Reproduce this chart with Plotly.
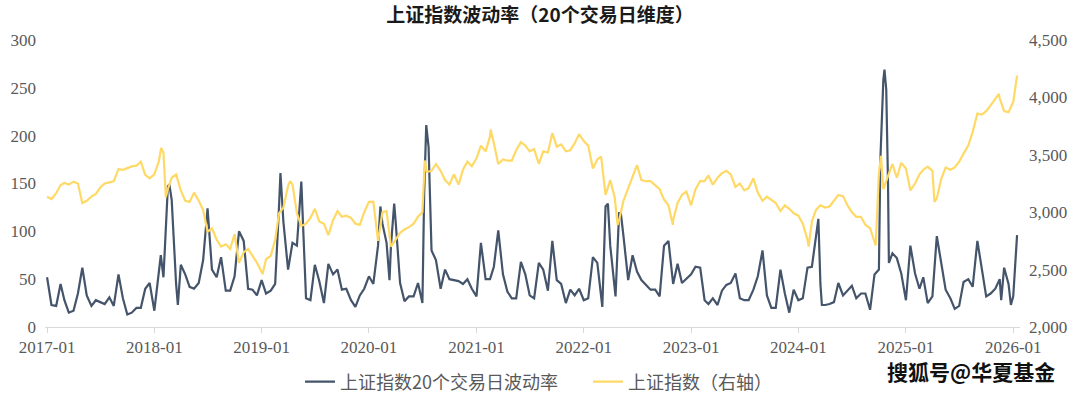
import pandas as pd
import plotly.graph_objects as go

# semi-monthly sampling dates (1st and 16th of each month), 2017-01 .. 2026-01
grid_dates = [f"{y}-{m:02d}-{d:02d}" for y in range(2017, 2026) for m in range(1, 13) for d in (1, 16)] + ["2026-01-01"]

# 上证指数20个交易日波动率 (left axis) at grid dates
vol_values = [
    # 2017
    52, 23, 22, 45, 28, 15, 17, 35, 62, 33, 22, 28, 26, 24, 31, 22, 55, 30, 13, 15, 20, 20, 40, 46,
    # 2018
    17, 59, 52, 147, 133, 45, 65, 55, 42, 40, 46, 70, 124, 60, 52, 73, 38, 38, 53, 100, 90, 40, 39, 33,
    # 2019
    49, 35, 38, 45, 125, 110, 60, 88, 85, 152, 30, 28, 65, 48, 25, 66, 55, 60, 39, 40, 28, 21, 33, 40,
    # 2020
    53, 45, 85, 108, 88, 85, 110, 46, 27, 32, 32, 46, 25, 205, 80, 70, 40, 60, 50, 49, 48, 45, 50, 40,
    # 2021
    32, 88, 50, 50, 63, 101, 55, 37, 30, 30, 68, 55, 33, 30, 67, 60, 38, 90, 49, 45, 25, 39, 33, 40,
    # 2022
    28, 30, 73, 67, 35, 126, 85, 38, 119, 95, 49, 75, 58, 49, 44, 39, 39, 32, 85, 90, 45, 66, 46, 50,
    # 2023
    55, 63, 62, 28, 24, 30, 23, 38, 44, 46, 56, 30, 28, 28, 39, 53, 80, 33, 20, 20, 60, 35, 15, 39,
    # 2024
    28, 30, 62, 63, 95, 45, 23, 24, 26, 46, 33, 38, 43, 30, 35, 35, 18, 55, 60, 258, 150, 77, 72, 56,
    # 2025
    28, 85, 56, 40, 52, 25, 32, 95, 65, 39, 30, 19, 22, 47, 50, 42, 90, 60, 32, 35, 40, 50, 62, 45,
    # 2026
    32,
]

# 上证指数 (right axis) at grid dates
idx_values = [
    # 2017
    3135, 3115, 3165, 3237, 3254, 3240, 3266, 3250, 3080, 3100, 3135, 3160,
    3215, 3250, 3260, 3270, 3375, 3368, 3384, 3399, 3405, 3440, 3326, 3295,
    # 2018
    3330, 3440, 3520, 3200, 3300, 3330, 3190, 3100, 3090, 3170, 3100, 3020,
    2830, 2860, 2760, 2700, 2720, 2680, 2810, 2560, 2650, 2680, 2620, 2560,
    # 2019
    2480, 2590, 2620, 2760, 2990, 3040, 3230, 3240, 2990, 2880, 2900, 2950,
    3030, 2920, 2900, 2800, 2930, 3010, 2960, 2970, 2950, 2900, 2890, 3000,
    # 2020
    3090, 3092, 2750, 3000, 3010, 2700, 2760, 2820, 2850, 2870, 2900, 2960,
    3000, 3350, 3360, 3420, 3360, 3280, 3240, 3330, 3240, 3370, 3440, 3400,
    # 2021
    3470, 3580, 3530, 3660, 3600, 3420, 3460, 3450, 3450, 3540, 3610, 3580,
    3530, 3550, 3420, 3530, 3520, 3690, 3571, 3590, 3530, 3540, 3600, 3680,
    # 2022
    3620, 3580, 3380, 3460, 3485, 3150, 3280, 3130, 2930, 3100, 3210, 3310,
    3410, 3280, 3270, 3270, 3230, 3200, 3110, 3060, 2930, 3080, 3150, 3180,
    # 2023
    3060, 3200, 3270, 3270, 3320, 3240, 3300, 3340, 3360, 3330, 3220, 3250,
    3190, 3210, 3295, 3170, 3100, 3135, 3110, 3080, 3010, 3060, 3030, 2990,
    # 2024
    2970, 2900, 2760, 2920, 3020, 3060, 3040, 3050, 3100, 3150, 3140, 3060,
    3000, 2960, 2960, 2890, 2860, 2740, 3340, 3200, 3320, 3420, 3300, 3430,
    # 2025
    3380, 3190, 3250, 3330, 3370, 3397, 3360, 3120, 3290, 3390, 3370, 3390,
    3440, 3510, 3580, 3700, 3860, 3850, 3880, 3930, 3990, 3990, 3880, 3870,
    # 2026
    3960,
]

# extra points at sharp turns
vol_extra_dates = ["2018-01-23", "2018-02-21", "2018-03-22", "2019-03-06", "2020-02-09", "2020-03-11",
                   "2020-03-27", "2020-07-07", "2020-07-14", "2020-07-22", "2022-03-05", "2022-03-24",
                   "2022-04-19", "2022-05-07", "2024-03-09", "2024-03-21", "2024-10-06", "2024-10-20",
                   "2024-10-26", "2024-11-04", "2025-11-21", "2025-12-24", "2026-01-14"]
vol_extra_values = [75, 149, 23, 161, 126, 49, 129, 140, 211, 188, 21, 129, 32, 119, 113, 23, 175, 269,
                    248, 67, 28, 23, 96]

idx_extra_dates = ["2018-01-24", "2018-02-09", "2019-01-04", "2019-04-08", "2020-07-09", "2021-02-18",
                   "2022-04-26", "2022-10-31", "2024-02-05", "2024-09-20", "2024-10-08", "2025-04-08",
                   "2025-11-13", "2026-01-14"]
idx_extra_values = [3560, 3130, 2460, 3270, 3450, 3720, 2890, 2890, 2700, 2710, 3490, 3090, 4030, 4190]

x_ticks_labels = ["2017-01", "2018-01", "2019-01", "2020-01", "2021-01",
                  "2022-01", "2023-01", "2024-01", "2025-01", "2026-01"]


def series(dates, values, extra_d, extra_v):
    s = pd.DataFrame({"d": pd.to_datetime(list(dates) + list(extra_d)),
                      "v": list(values) + list(extra_v)})
    return s.sort_values("d")


vol = series(grid_dates, vol_values, vol_extra_dates, vol_extra_values)
idx = series(grid_dates, idx_values, idx_extra_dates, idx_extra_values)

TICK_FONT = dict(family="Liberation Serif", size=17, color="#595959")
CJK = "Noto Sans CJK SC"
LEG_FONT = dict(family=CJK, size=18, color="#595959")

fig = go.Figure()
fig.add_trace(go.Scatter(x=vol["d"], y=vol["v"], mode="lines", name="上证指数20个交易日波动率",
                         line=dict(color="#44546a", width=2.2), yaxis="y", legend="legend"))
fig.add_trace(go.Scatter(x=idx["d"], y=idx["v"], mode="lines", name="上证指数（右轴）",
                         line=dict(color="#ffd966", width=2.2), yaxis="y2", legend="legend2"))

fig.update_layout(
    width=1080, height=394,
    margin=dict(l=45, r=60, t=40, b=67, autoexpand=False),
    paper_bgcolor="white", plot_bgcolor="white",
    title=dict(text="<b>上证指数波动率（20个交易日维度）</b>", x=0.5, xref="container",
               y=1 - 15 / 394, yref="container", yanchor="middle",
               font=dict(family=CJK, size=19, color="#1a1a1a")),
    xaxis=dict(type="date", range=["2016-12-25", "2026-01-24"],
               tickvals=[f"{t}-01" for t in x_ticks_labels], ticktext=x_ticks_labels,
               showgrid=False, showline=True, linecolor="#d9d9d9", linewidth=1,
               ticks="outside", ticklen=5, tickcolor="#d9d9d9", tickfont=TICK_FONT,
               zeroline=False, automargin=False),
    yaxis=dict(range=[0, 300], dtick=50, showgrid=False, showline=False, zeroline=False,
               tickfont=TICK_FONT, ticklabelstandoff=8, automargin=False),
    yaxis2=dict(range=[2000, 4500], dtick=500, overlaying="y", side="right", tickformat=",",
                showgrid=False, showline=False, zeroline=False, tickfont=TICK_FONT,
                ticklabelstandoff=8, automargin=False),
    legend=dict(orientation="h", x=300 / 1080, xref="container", xanchor="left",
                y=1 - 382 / 394, yref="container", yanchor="middle",
                font=LEG_FONT, bgcolor="rgba(0,0,0,0)"),
    legend2=dict(orientation="h", x=588 / 1080, xref="container", xanchor="left",
                 y=1 - 382 / 394, yref="container", yanchor="middle",
                 font=LEG_FONT, bgcolor="rgba(0,0,0,0)"),
    showlegend=True,
)

fig.add_annotation(text="<b>搜狐号@华夏基金</b>", xref="paper", yref="paper",
                   x=(971 - 45) / 975, y=(327 - 371) / 287,
                   xanchor="center", yanchor="middle", showarrow=False,
                   font=dict(family=CJK, size=21, color="#111111", shadow="1px 1px 1px #ffffff"))

fig.write_html("out.html", config={"displayModeBar": False},
               post_script="document.body.style.margin='0';document.body.style.padding='0';")
